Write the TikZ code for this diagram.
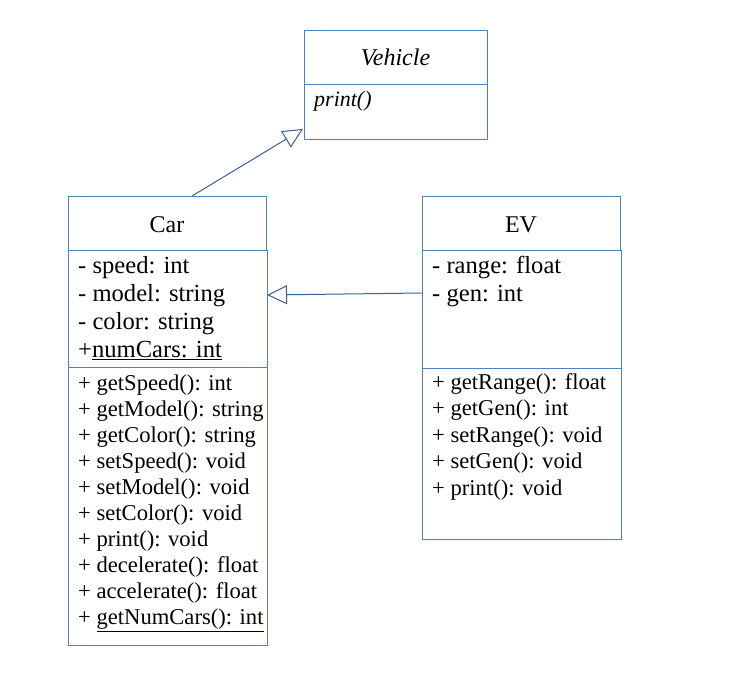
\documentclass[tikz,border=0pt]{standalone}
\usepackage{fontspec}
\setmainfont{Liberation Serif}
\usetikzlibrary{arrows.meta}
\definecolor{umlblue}{RGB}{79,129,189}
\definecolor{lineblue}{RGB}{59,94,156}
\begin{document}
\begin{tikzpicture}[x=1pt,y=-1pt,
  box/.style={draw=umlblue, line width=1pt, inner sep=0pt, anchor=north west},
  attr/.style={anchor=base west, inner sep=0pt, font=\fontsize{24.6}{28}\selectfont},
  meth/.style={anchor=base west, inner sep=0pt, font=\fontsize{22.6}{26}\selectfont},
  title/.style={anchor=base, inner sep=0pt, font=\fontsize{24}{28}\selectfont},
  inherit/.style={draw=lineblue, line width=1pt, -{Triangle[open, length=20pt, width=19pt]}}]
\useasboundingbox (0,0) rectangle (741,680);
% Vehicle
\node[box, minimum width=183pt, minimum height=54pt] (vehH) at (304,30) {};
\node[box, minimum width=183pt, minimum height=55pt] (vehA) at (304,84) {};
\node[title, font=\fontsize{24}{28}\selectfont\itshape] (vehT) at (395.5,65) {Vehicle};
\node[anchor=base west, inner sep=0pt, font=\fontsize{22}{26}\selectfont\itshape] (vehP) at (314,106) {print()};
% Car
\node[box, minimum width=198pt, minimum height=54pt] (carH) at (68,196) {};
\node[box, minimum width=199pt, minimum height=117pt] (carA) at (68,250) {};
\node[box, minimum width=199pt, minimum height=278pt] (carM) at (68,367) {};
\node[title] (carT) at (167,232) {Car};
\foreach \t [count=\i from 0] in {- speed: int, - model: string, - color: string, +\underline{numCars: int}}
  \node[attr] (carAt\i) at (78,273+28*\i) {\t};
\foreach \t [count=\i from 0] in {+ getSpeed(): int, + getModel(): string, + getColor(): string, + setSpeed(): void, + setModel(): void, + setColor(): void, + print(): void, + decelerate(): float, + accelerate(): float, + \underline{getNumCars(): int}}
  \node[meth] (carMt\i) at (78,390+26.1*\i) {\t};
% EV
\node[box, minimum width=198pt, minimum height=54pt] (evH) at (422,196) {};
\node[box, minimum width=199pt, minimum height=118pt] (evA) at (422,250) {};
\node[box, minimum width=199pt, minimum height=171pt] (evM) at (422,368) {};
\node[title] (evT) at (521,232) {EV};
\foreach \t [count=\i from 0] in {- range: float, - gen: int}
  \node[attr] (evAt\i) at (432,273+28*\i) {\t};
\foreach \t [count=\i from 0] in {+ getRange(): float, + getGen(): int, + setRange(): void, + setGen(): void, + print(): void}
  \node[meth] (evMt\i) at (432,389+26.5*\i) {\t};
% connectors
\coordinate (carTop) at (192,196);
\coordinate (vehTip) at (303,129);
\coordinate (evLeft) at (422,293);
\coordinate (carTip) at (267,295);
\draw[inherit] (carTop) -- (vehTip);
\draw[inherit] (evLeft) -- (carTip);
\end{tikzpicture}
\end{document}
